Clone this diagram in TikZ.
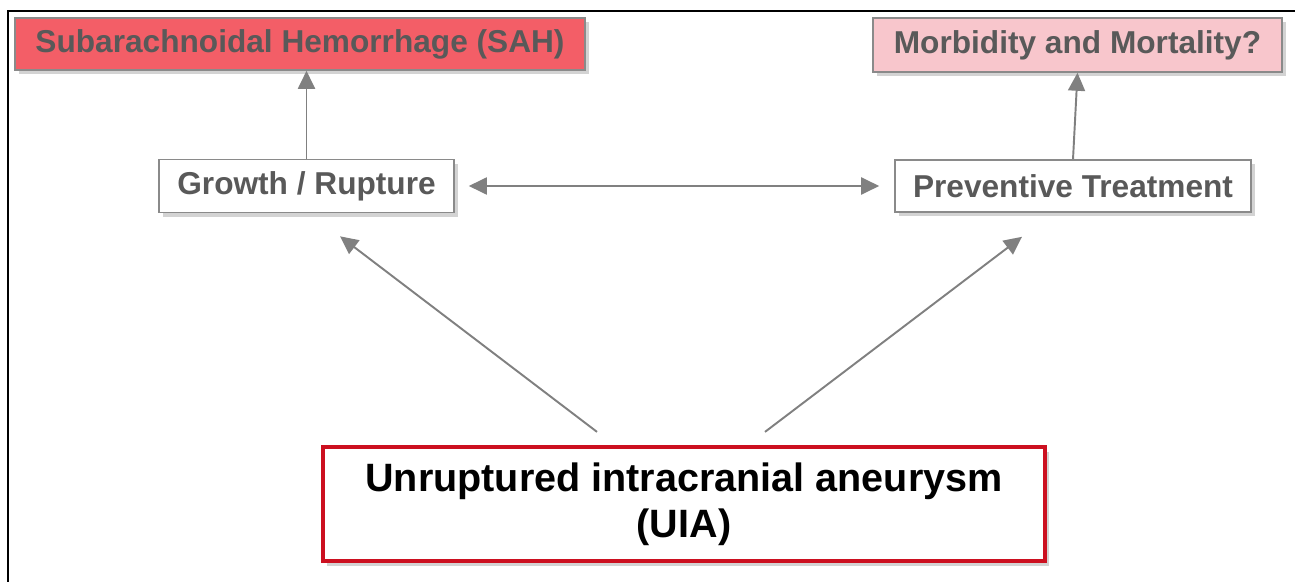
\documentclass[tikz,border=0pt]{standalone}
\usepackage{fontspec}
\setsansfont{Liberation Sans}
\usepackage{xcolor}
\usetikzlibrary{calc,arrows.meta,shadows}

\definecolor{sahred}{HTML}{F35E67}
\definecolor{morbpink}{HTML}{F8C6CC}
\definecolor{uiared}{HTML}{CC1020}
\definecolor{boxgray}{HTML}{8A8A8A}
\definecolor{txtgray}{HTML}{595959}
\definecolor{arrgray}{HTML}{808080}

\begin{document}
\begin{tikzpicture}[
        box/.style={draw=boxgray, line width=0.9pt, inner sep=0pt, text=txtgray,
            font=\sffamily\bfseries\fontsize{18}{21}\selectfont,
            drop shadow={shadow xshift=0.07cm, shadow yshift=-0.09cm, opacity=0.35}},
        tip/.tip={Triangle[length=0.36cm,width=0.34cm]},
        link/.style={draw=arrgray, line width=1.1pt, -tip}
    ]

        \useasboundingbox (0,0) rectangle (25.9,-11.64);
        \draw[line width=1.4pt] (0.16,-11.64) -- (0.16,-0.22) -- (25.9,-0.22);

        % top row
        \node[box, fill=sahred, minimum width=11.4cm, minimum height=1.04cm] (sah) at (6.0,-0.88) {Subarachnoidal Hemorrhage (SAH)};
        \node[box, fill=morbpink, minimum width=8.18cm, minimum height=1.08cm] (morb) at (21.55,-0.9) {Morbidity and Mortality?};

        % middle row
        \node[box, fill=white, minimum width=5.9cm, minimum height=1.06cm] (growth) at (6.13,-3.72) {Growth / Rupture};
        \node[box, fill=white, minimum width=7.12cm, minimum height=1.04cm] (prevent) at (21.46,-3.72) {Preventive Treatment};

        % bottom
        \node[draw=uiared, line width=2.4pt, fill=white, minimum width=14.44cm, minimum height=2.28cm,
            align=center, font=\sffamily\bfseries\fontsize{22.5}{26}\selectfont,
            drop shadow={shadow xshift=0.07cm, shadow yshift=-0.09cm, opacity=0.35}] (uia) at (13.68,-10.08)
            {Unruptured intracranial aneurysm\\(UIA)};

        \coordinate (uiaL) at ($(uia.north)+(-1.74,0.26)$);
        \coordinate (uiaR) at ($(uia.north)+(1.62,0.26)$);
        \coordinate (growthIn) at ($(growth.south)+(0.67,-0.46)$);
        \coordinate (preventIn) at ($(prevent.south)+(-1.02,-0.48)$);

        \draw[link] (growth.north) -- (growth.north |- sah.south);
        \draw[link] (prevent.north) -- (morb.south);
        \draw[link, tip-tip, shorten <=0.28cm, shorten >=0.3cm] (growth.east) -- (prevent.west);
        \draw[link] (uiaL) -- (growthIn);
        \draw[link] (uiaR) -- (preventIn);

    \end{tikzpicture}
\end{document}
